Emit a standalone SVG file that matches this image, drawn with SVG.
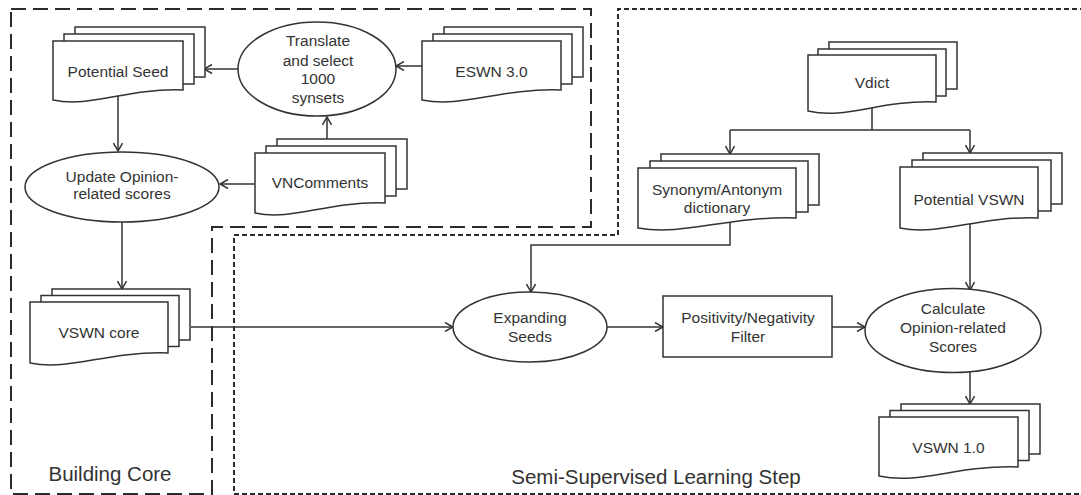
<svg xmlns="http://www.w3.org/2000/svg" width="1081" height="495" viewBox="0 0 1081 495">
<style>
.shape{fill:#fff;stroke:#333;stroke-width:1.5}
.conn{fill:none;stroke:#333;stroke-width:1.5}
.frame1{fill:none;stroke:#2b2b2b;stroke-width:2;stroke-dasharray:15 7}
.frame2{fill:none;stroke:#2b2b2b;stroke-width:2;stroke-dasharray:5 3}
text{font-family:"Liberation Sans",Arial,sans-serif;font-size:15.5px;fill:#333;text-anchor:middle}
.big{font-size:20.5px}
</style>
<defs>
<marker id="arr" viewBox="0 0 10 10" refX="9" refY="5" markerWidth="10" markerHeight="10" markerUnits="userSpaceOnUse" orient="auto">
<path d="M1,0.5 L9,5 L1,9.5" fill="none" stroke="#333" stroke-width="1.5"/>
</marker>
</defs>
<rect width="1081" height="495" fill="#fff"/>
<g id="frames">
<path class="frame1" d="M11,9 H591 V227 H212 V494 H11 Z"/>
<path class="frame2" d="M1085,9 H618 V235 H234 V494 H1085"/>
<text class="big" x="110" y="481">Building Core</text>
<text class="big" x="656" y="484">Semi-Supervised Learning Step</text>
</g>
<g id="connectors">
<path class="conn" d="M238,69 H204" marker-end="url(#arr)"/>
<path class="conn" d="M422,66 H396" marker-end="url(#arr)"/>
<path class="conn" d="M327,139 V117" marker-end="url(#arr)"/>
<path class="conn" d="M255,184 H220" marker-end="url(#arr)"/>
<path class="conn" d="M118,95 V151" marker-end="url(#arr)"/>
<path class="conn" d="M122,222 V289" marker-end="url(#arr)"/>
<path class="conn" d="M191,327 H453" marker-end="url(#arr)"/>
<path class="conn" d="M872,100 V130 M730,130 H970"/>
<path class="conn" d="M730,130 V154" marker-end="url(#arr)"/>
<path class="conn" d="M970,130 V153" marker-end="url(#arr)"/>
<path class="conn" d="M730,215 V245 H531 V292" marker-end="url(#arr)"/>
<path class="conn" d="M607,327 H663" marker-end="url(#arr)"/>
<path class="conn" d="M832,327 H865" marker-end="url(#arr)"/>
<path class="conn" d="M970,215 V290" marker-end="url(#arr)"/>
<path class="conn" d="M970,368 V404" marker-end="url(#arr)"/>
</g>
<g id="potential-seed">
<rect class="shape" x="75" y="27" width="130" height="50"/>
<rect class="shape" x="64" y="34" width="130" height="50"/>
<path class="shape" d="M53,41 H183 V90 C124.5,88 92,108 53,100 Z"/>
<text x="118" y="77">Potential Seed</text>
</g>
<g id="eswn">
<rect class="shape" x="444" y="27" width="139" height="50"/>
<rect class="shape" x="433" y="34" width="139" height="50"/>
<path class="shape" d="M422,41 H561 V90 C498.5,88 463.7,108 422,100 Z"/>
<text x="491.5" y="77">ESWN 3.0</text>
</g>
<g id="translate">
<ellipse class="shape" cx="317" cy="69" rx="79" ry="47"/>
<text x="318" y="46">Translate</text>
<text x="318" y="65.5">and select</text>
<text x="318" y="84">1000</text>
<text x="318" y="102.5">synsets</text>
</g>
<g id="vncomments">
<rect class="shape" x="277" y="139" width="130" height="50"/>
<rect class="shape" x="266" y="146" width="130" height="50"/>
<path class="shape" d="M255,153 H385 V203 C326.5,201 294,221 255,213 Z"/>
<text x="320" y="188">VNComments</text>
</g>
<g id="update">
<ellipse class="shape" cx="122" cy="187" rx="97" ry="35"/>
<text x="122" y="182">Update Opinion-</text>
<text x="122" y="199">related scores</text>
</g>
<g id="vswn-core">
<rect class="shape" x="52" y="289" width="138" height="51"/>
<rect class="shape" x="41" y="295.5" width="138" height="51"/>
<path class="shape" d="M30,302 H168 V353 C105.9,351 71.4,371 30,363 Z"/>
<text x="99" y="338">VSWN core</text>
</g>
<g id="vdict">
<rect class="shape" x="829" y="42" width="128" height="47"/>
<rect class="shape" x="818" y="49" width="128" height="47"/>
<path class="shape" d="M808,55 H936 V102 C878.4,100 846.4,120 808,111 Z"/>
<text x="872" y="88">Vdict</text>
</g>
<g id="synonym">
<rect class="shape" x="661" y="154" width="158" height="51"/>
<rect class="shape" x="650" y="161" width="158" height="51"/>
<path class="shape" d="M638,168 H796 V218 C724.9,216 685.4,236 638,228 Z"/>
<text x="717" y="195">Synonym/Antonym</text>
<text x="717" y="213">dictionary</text>
</g>
<g id="potential-vswn">
<rect class="shape" x="923" y="153" width="139" height="51"/>
<rect class="shape" x="912" y="160" width="139" height="51"/>
<path class="shape" d="M900,167 H1038 V218 C975.9,216 941.4,236 900,228 Z"/>
<text x="969" y="205">Potential VSWN</text>
</g>
<g id="expanding">
<ellipse class="shape" cx="530" cy="327" rx="77" ry="35"/>
<text x="530" y="323">Expanding</text>
<text x="530" y="342">Seeds</text>
</g>
<g id="filter">
<rect class="shape" x="663" y="296" width="169" height="61"/>
<text x="748" y="323">Positivity/Negativity</text>
<text x="748" y="342">Filter</text>
</g>
<g id="calculate">
<ellipse class="shape" cx="953" cy="330.5" rx="88" ry="42"/>
<text x="953" y="314">Calculate</text>
<text x="953" y="333">Opinion-related</text>
<text x="953" y="352">Scores</text>
</g>
<g id="vswn10">
<rect class="shape" x="901" y="404" width="139" height="50"/>
<rect class="shape" x="890" y="410.5" width="139" height="50"/>
<path class="shape" d="M879,417 H1018 V467 C955.5,465 920.7,485 879,476 Z"/>
<text x="948.5" y="453">VSWN 1.0</text>
</g>
</svg>
